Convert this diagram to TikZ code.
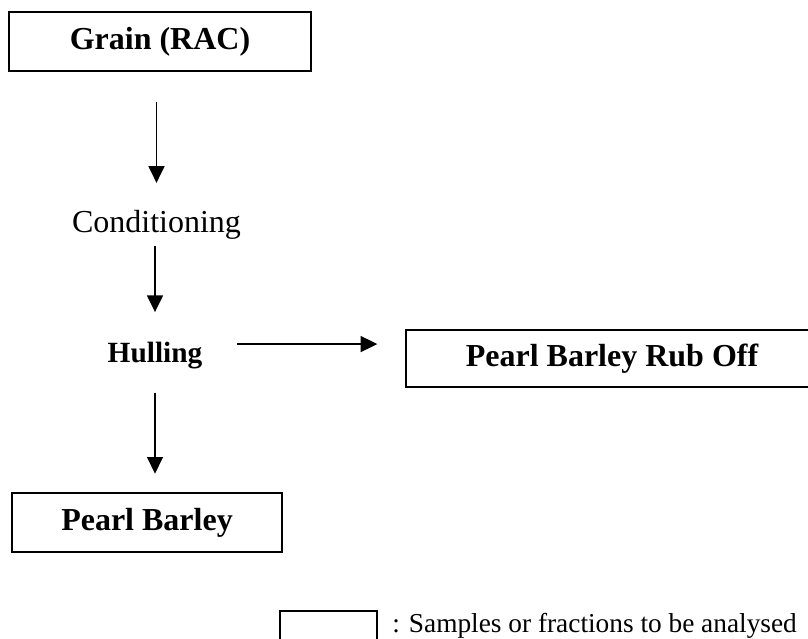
\documentclass[tikz,border=0pt]{standalone}
\usepackage{fontspec}
\setmainfont{Liberation Serif}
\usepackage{tikz}
\usetikzlibrary{arrows.meta,positioning,calc}

\begin{document}
\begin{tikzpicture}[
  x=0.75pt, y=-0.75pt,
  box/.style={draw=black, line width=1pt, inner sep=0pt, align=center, font=\bfseries\fontsize{24}{28}\selectfont},
  steptext/.style={inner sep=0pt, font=\fontsize{24}{28}\selectfont},
  arr/.style={-{Triangle[length=12.5pt, width=12pt]}, line width=1pt, black}
]
  \useasboundingbox (0,0) rectangle (808,639);
  \clip (0,0) rectangle (808,639);
  \node[box, minimum width=226.5pt, minimum height=44.25pt] (grain) at (160,41.5) {Grain (RAC)};
  \node[steptext, anchor=base] (cond) at (156.5,232) {Conditioning};
  \node[steptext, anchor=base, font=\bfseries\fontsize{22}{26}\selectfont] (hull) at (155,362) {Hulling};
  \node[box, minimum width=309pt, minimum height=42.75pt] (rub) at (612,358.5) {Pearl Barley Rub Off};
  \node[box, minimum width=202.5pt, minimum height=44.25pt] (pearl) at (147,522.5) {Pearl Barley};
  % legend
  \node[box, minimum width=72.75pt, minimum height=44.25pt] (legbox) at (328.5,640.5) {};
  \node[steptext, anchor=base west, font=\fontsize{20.5}{24}\selectfont] (legtext) at (392,632) {: Samples or fractions to be analysed};
  \draw[arr, shorten <=23pt, shorten >=20pt] (cond.north |- grain.south) -- (cond.north);
  \draw[arr, shorten <=5pt, shorten >=22pt] (hull.north |- cond.south) -- (hull.north);
  \draw[arr, shorten <=18pt, shorten >=14pt] (hull.south) -- (hull.south |- pearl.north);
  \draw[arr, shorten <=26pt, shorten >=21pt] ([yshift=8.25pt]hull.east) -- ([yshift=8.25pt]hull.east -| rub.west);
\end{tikzpicture}
\end{document}
